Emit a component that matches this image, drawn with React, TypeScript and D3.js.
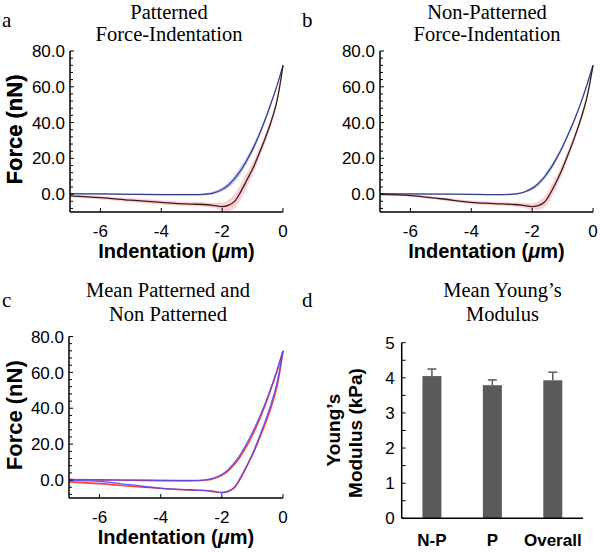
import React from 'react';
import * as d3 from 'd3';

// ---------- data ----------
const indentation = [-7, -6, -5, -4, -3.4, -3, -2.6, -2.3, -2.0, -1.8, -1.6, -1.4, -1.2, -1.0, -0.8, -0.6, -0.4, -0.2, 0];

// Patterned (panel a)
const patApproach = [0.3, 0.1, -0.1, -0.3, -0.3, -0.3, -0.1, 0.6, 2.6, 5.0, 8.5, 13.0, 18.5, 25.0, 32.5, 41.0, 50.5, 60.5, 72.0];
const patApproachSd = [0.5, 0.5, 0.5, 0.5, 0.5, 0.5, 0.6, 0.8, 1.2, 1.6, 2.0, 2.2, 2.0, 1.8, 1.5, 1.2, 1.0, 0.8, 0.5];
const patRetract = [-1.0, -2.0, -3.4, -4.6, -5.3, -5.6, -5.8, -6.3, -7.0, -6.3, -4.2, 1.0, 7.5, 14.0, 22.0, 30.5, 40.0, 52.0, 72.0];
const patRetractSd = [0.9, 1.0, 1.1, 1.2, 1.2, 1.2, 1.3, 1.5, 2.2, 3.0, 3.8, 4.2, 4.0, 3.6, 3.0, 2.5, 2.0, 1.5, 0.8];

// Non-patterned (panel b)
const npApproach = [0.2, 0.1, 0.0, -0.2, -0.3, -0.3, 0.0, 0.9, 3.2, 5.8, 9.5, 14.2, 20.0, 26.5, 34.0, 42.0, 51.0, 61.0, 72.0];
const npApproachSd = [0.4, 0.4, 0.4, 0.4, 0.4, 0.4, 0.5, 0.6, 0.9, 1.2, 1.5, 1.6, 1.5, 1.3, 1.1, 1.0, 0.8, 0.6, 0.4];
const npRetract = [-0.2, -0.8, -2.6, -4.6, -5.2, -5.5, -5.8, -6.3, -7.0, -6.4, -4.5, 0.5, 7.0, 14.5, 23.0, 32.0, 42.0, 54.0, 72.0];
const npRetractSd = [0.6, 0.7, 0.9, 1.0, 1.0, 1.0, 1.1, 1.3, 1.8, 2.4, 3.0, 3.4, 3.2, 2.8, 2.4, 2.0, 1.6, 1.2, 0.6];

const forceMajorTicks = [0, 20, 40, 60, 80];
const forceMinorTicks = [-8, -4, 4, 8, 12, 16, 24, 28, 32, 36, 44, 48, 52, 56, 64, 68, 72, 76];
const indentTicks = [-6, -4, -2, 0];

const barCategories = ['N-P', 'P', 'Overall'];
const barMeans = [4.05, 3.79, 3.93];
const barErrors = [0.2, 0.15, 0.23];
const modulusTicks = [0, 1, 2, 3, 4, 5];
const modulusMinorTicks = [0.5, 1.5, 2.5, 3.5, 4.5];

const SANS = 'Liberation Sans, Arial, Helvetica, sans-serif';
const SERIF = 'Liberation Serif, Times New Roman, serif';

type Series = {
  values: number[];
  sd?: number[];
  line: string;
  band?: string;
  width: number;
  opacity?: number;
};

function ForcePanel(props: {
  x0: number; x1: number; yb: number; yt: number;
  series: Series[];
  titles: { text: string; x: number; y: number }[];
  letter: { text: string; x: number; y: number };
}) {
  const { x0, x1, yb, yt, series, titles, letter } = props;
  const x = d3.scaleLinear().domain([-7, 0]).range([x0, x1]);
  const y = d3.scaleLinear().domain([-10, 80]).range([yb, yt]);
  const curve = d3.curveCatmullRom.alpha(0.5);
  const line = d3.line<number>()
    .x((_, i) => x(indentation[i]))
    .y((d) => y(d))
    .curve(curve);
  const area = (vals: number[], sd: number[]) =>
    d3.area<number>()
      .x((_, i) => x(indentation[i]))
      .y0((d, i) => y(d - sd[i]))
      .y1((d, i) => y(d + sd[i]))
      .curve(curve)(vals) || '';
  const fmt = d3.format('.1f');
  return (
    <g>
      <text x={letter.x} y={letter.y} fontFamily={SERIF} fontSize={21}>{letter.text}</text>
      {titles.map((t, i) => (
        <text key={i} x={t.x} y={t.y} textAnchor="middle" fontFamily={SERIF} fontSize={20.5}>{t.text}</text>
      ))}
      {series.map((s, i) => s.sd && s.band ? (
        <path key={'b' + i} d={area(s.values, s.sd)} fill={s.band} stroke="none" />
      ) : null)}
      {series.map((s, i) => (
        <path key={'l' + i} d={line(s.values) || ''} fill="none" stroke={s.line} strokeWidth={s.width} strokeOpacity={s.opacity ?? 1} />
      ))}
      {/* axes */}
      <line x1={x0} x2={x0} y1={yb} y2={y(80)} stroke="#000" strokeWidth={1.5} />
      <line x1={x0} x2={x1} y1={yb} y2={yb} stroke="#000" strokeWidth={1.5} />
      {forceMajorTicks.map((t) => (
        <g key={'ym' + t}>
          <line x1={x0} x2={x0 + 4} y1={y(t)} y2={y(t)} stroke="#000" strokeWidth={1} />
          <text x={x0 - 5} y={y(t)} dy="0.36em" textAnchor="end" fontFamily={SANS} fontSize={17}>{fmt(t)}</text>
        </g>
      ))}
      {forceMinorTicks.map((t) => (
        <line key={'yn' + t} x1={x0} x2={x0 + 3} y1={y(t)} y2={y(t)} stroke="#000" strokeWidth={1} />
      ))}
      {indentTicks.map((t) => (
        <g key={'x' + t}>
          <line x1={x(t)} x2={x(t)} y1={yb} y2={yb - 4} stroke="#000" strokeWidth={1} />
          <text x={x(t)} y={yb + 25} textAnchor="middle" fontFamily={SANS} fontSize={17}>{String(t)}</text>
        </g>
      ))}
      <text x={(x0 + x1) / 2} y={yb + 46} textAnchor="middle" fontFamily={SANS} fontWeight="bold" fontSize={20}>
        Indentation (<tspan fontStyle="italic">μ</tspan>m)
      </text>
      <text transform={`translate(${22},${(yb + yt) / 2 - 2}) rotate(-90)`} textAnchor="middle" fontFamily={SANS} fontWeight="bold" fontSize={22}>
        Force (nN)
      </text>
    </g>
  );
}

function BarPanel() {
  const x0 = 401.7, x1 = 583, yb = 518.3, yt = 342.7;
  const x = d3.scaleBand<string>().domain(barCategories).range([x0, x1]).paddingInner(0.686).paddingOuter(0.343);
  const y = d3.scaleLinear().domain([0, 5]).range([yb, yt]);
  const col = '#5a5a5a';
  return (
    <g>
      <text x={302} y={307} fontFamily={SERIF} fontSize={21}>d</text>
      <text x={502.5} y={297} textAnchor="middle" fontFamily={SERIF} fontSize={20.5}>Mean Young’s</text>
      <text x={502.5} y={321} textAnchor="middle" fontFamily={SERIF} fontSize={20.5}>Modulus</text>
      {barCategories.map((c, i) => {
        const cx = (x(c) as number) + x.bandwidth() / 2;
        return (
          <g key={c}>
            <rect x={x(c)} y={y(barMeans[i])} width={x.bandwidth()} height={yb - y(barMeans[i])} fill={col} />
            <line x1={cx} x2={cx} y1={y(barMeans[i])} y2={y(barMeans[i] + barErrors[i])} stroke={col} strokeWidth={1.5} />
            <line x1={cx - 4.5} x2={cx + 4.5} y1={y(barMeans[i] + barErrors[i])} y2={y(barMeans[i] + barErrors[i])} stroke={col} strokeWidth={1.5} />
            <text x={cx} y={546} textAnchor="middle" fontFamily={SANS} fontWeight="bold" fontSize={17}>{c}</text>
          </g>
        );
      })}
      <line x1={x0} x2={x0} y1={yb} y2={yt} stroke="#000" strokeWidth={1.5} />
      <line x1={x0} x2={x1} y1={yb} y2={yb} stroke="#000" strokeWidth={1.5} />
      {modulusTicks.map((t) => (
        <g key={t}>
          <line x1={x0} x2={x0 + 4} y1={y(t)} y2={y(t)} stroke="#000" strokeWidth={1} />
          <text x={x0 - 7} y={y(t)} dy="0.36em" textAnchor="end" fontFamily={SANS} fontSize={17}>{t}</text>
        </g>
      ))}
      {modulusMinorTicks.map((t) => (
        <line key={t} x1={x0} x2={x0 + 4} y1={y(t)} y2={y(t)} stroke="#000" strokeWidth={1} />
      ))}
      <text transform={`translate(340,430) rotate(-90)`} textAnchor="middle" fontFamily={SANS} fontWeight="bold" fontSize={19}>Young’s</text>
      <text transform={`translate(362,433) rotate(-90)`} textAnchor="middle" fontFamily={SANS} fontWeight="bold" fontSize={19}>Modulus (kPa)</text>
    </g>
  );
}

export default function App() {
  return (
    <div style={{ position: 'absolute', left: 0, top: 0 }}>
      <svg width={600} height={552} style={{ display: 'block', background: '#fff' }}>
        <ForcePanel
          x0={70} x1={283} yb={212} yt={51}
          letter={{ text: 'a', x: 2, y: 27 }}
          titles={[{ text: 'Patterned', x: 169, y: 18.5 }, { text: 'Force-Indentation', x: 169, y: 41 }]}
          series={[
            { values: patApproach, sd: patApproachSd, line: '#3a3f8c', band: 'rgba(130,150,235,0.45)', width: 1.3 },
            { values: patRetract, sd: patRetractSd, line: '#3a1c1c', band: 'rgba(250,160,165,0.5)', width: 1.3 },
          ]}
        />
        <ForcePanel
          x0={380} x1={593} yb={212} yt={51}
          letter={{ text: 'b', x: 302, y: 27 }}
          titles={[{ text: 'Non-Patterned', x: 487, y: 18.5 }, { text: 'Force-Indentation', x: 487, y: 41 }]}
          series={[
            { values: npApproach, sd: npApproachSd, line: '#3a3f8c', band: 'rgba(130,150,235,0.45)', width: 1.3 },
            { values: npRetract, sd: npRetractSd, line: '#3a1c1c', band: 'rgba(250,160,165,0.5)', width: 1.3 },
          ]}
        />
        <ForcePanel
          x0={69} x1={283} yb={498} yt={336.5}
          letter={{ text: 'c', x: 2, y: 307 }}
          titles={[{ text: 'Mean Patterned and', x: 168, y: 297 }, { text: 'Non Patterned', x: 168, y: 321 }]}
          series={[
            { values: patApproach, line: '#ff3b3b', width: 1.6 },
            { values: patRetract, line: '#ff3b3b', width: 1.6 },
            { values: npApproach, line: '#4a4aff', width: 1.3, opacity: 0.85 },
            { values: npRetract, line: '#4a4aff', width: 1.3, opacity: 0.85 },
          ]}
        />
        <BarPanel />
      </svg>
    </div>
  );
}
